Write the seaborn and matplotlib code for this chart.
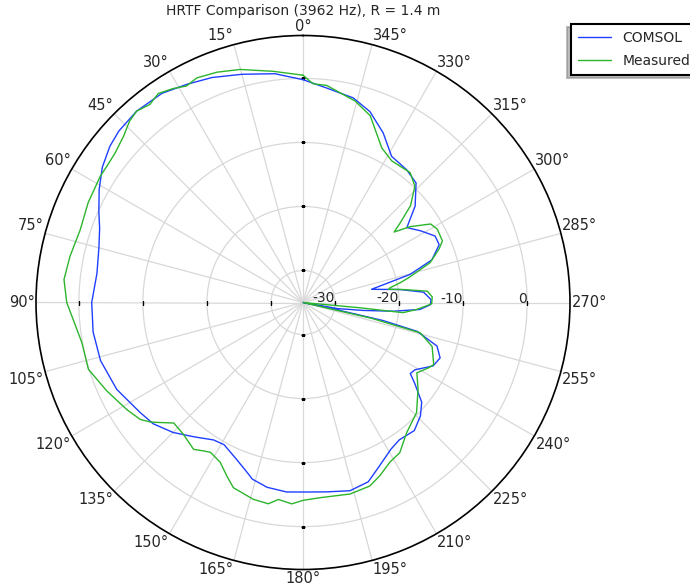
import matplotlib
matplotlib.use("Agg")
import matplotlib.pyplot as plt
import numpy as np
import pandas as pd
import seaborn as sns

# COMSOL simulation, angle (deg) / level (dB)
comsol_deg = [0, 7, 15, 22, 28, 34, 41, 47, 51, 56, 61, 66, 70, 75, 82, 90,
              98, 106, 115, 124, 129, 135, 141, 147, 151, 157, 162, 164, 169, 175, 180,
              187, 194, 200, 205, 211, 215, 221, 226, 230, 234, 236.5, 239, 244, 248,
              252, 255.8, 257.3, 258, 259, 260, 262.5, 264.5, 266.6, 269, 271.3, 274.9,
              277.6, 280.9, 284.7, 288.3, 293, 296.7, 301.4, 305.8, 310.7, 316.6, 322,
              328.8, 334.7, 340.7, 346.2, 353.7, 360]
comsol_db = [-0.2, 1.0, 1.9, 2.9, 3.6, 4.4, 4.6, 4.3, 3.8, 2.8, 1.4, -0.1, -1.2, -2.0, -2.5, -2.0,
             -1.9, -2.1, -2.9, -4.3, -4.9, -6.3, -8.0, -9.4, -9.6, -8.4, -7.0, -6.3, -5.6, -5.3, -5.4,
             -5.2, -4.7, -5.2, -6.8, -8.3, -8.8, -8.5, -9.5, -10.8, -13.4, -14.9, -14.6, -12.4, -11.9,
             -13.0, -16.6, -22.2, -30.0, -35.0, -29.5, -25.5, -20.8, -16.7, -15.1, -15.0, -16.1,
             -19.7, -24.1, -17.7, -13.8, -11.9, -11.9, -13.5, -15.0, -11.9, -9.3, -8.7,
             -8.3, -5.7, -3.4, -2.1, -1.3, -0.2]

# measured, angle (deg) / level (dB)
meas_deg = [0, 7.3, 15.1, 20.5, 25.3, 28.3, 31.3, 34.7, 37.7, 41, 43.7, 47.2, 51.5, 55.2, 58.1,
            65.1, 71.9, 78.8, 84.5, 90, 94.2, 100.3, 107.3, 114.3, 121.3, 125.7, 128, 129.4,
            133, 137.8, 143.3, 146.2, 148.3, 152.6, 156.3, 159.4, 165.8, 170.2, 172.9, 176.8,
            180, 185, 193.8, 200, 203.9, 208.5, 212.8, 218.5, 225.9, 233, 238.3, 242.5, 244.6,
            251.2, 255.5, 257, 258.3, 264.7, 264.2, 266.5, 269.4, 272.5, 275.2, 277.3, 278.8,
            279.6, 281.5, 283.5, 287.4, 291.4, 293.8, 298.6, 301.6, 305.3, 307.7, 309.4, 312,
            316.1, 320.5, 327.9, 333, 340.2, 345.5, 353.75, 357.4, 360]
meas_db = [0.5, 1.4, 2.7, 3.4, 3.8, 3.4, 4.1, 4.7, 4.1, 4.6, 4.2, 3.2, 2.5, 2.3, 2.3,
           2.0, 1.6, 2.1, 2.5, 1.9, 1.0, 0.1, 0.1, -1.4, -2.8, -3.7, -4.7, -5.5,
           -7.4, -7.2, -6.4, -7.1, -7.5, -6.9, -5.4, -4.1, -3.3, -3.1, -4.0, -3.5,
           -4.1, -4.4, -4.2, -4.5, -5.4, -6.6, -7.1, -9.0, -10.3, -12.5, -14.1, -12.9, -12.4,
           -13.7, -16.1, -24.0, -35.0, -26.1, -19.3, -17.2, -14.9, -14.8, -15.5, -19.1, -21.5,
           -21.2, -19.5, -17.8, -14.2, -12.2, -11.2, -11.1, -11.6, -14.5, -17.0, -15.3, -12.4,
           -9.8, -8.7, -8.9, -7.9, -4.0, -2.5, -0.9, -0.8, 0.5]

r_ticks = [-30, -20, -10, 0]
theta_ticks = list(range(0, 360, 15))

df_c = pd.DataFrame({"theta": np.deg2rad(comsol_deg), "level": comsol_db})
df_m = pd.DataFrame({"theta": np.deg2rad(meas_deg), "level": meas_db})

sns.set_style("white")
plt.rcParams["font.family"] = ["DejaVu Sans"]

fig = plt.figure(figsize=(6.9, 5.88), dpi=100)
ax = fig.add_axes([36 / 690, 18.5 / 588, 534 / 690, 534 / 588], projection="polar")
ax.set_theta_zero_location("N")
ax.set_theta_direction(1)

sns.lineplot(data=df_c, x="theta", y="level", ax=ax, sort=False, estimator=None,
             color="#1f3fff", lw=1.0, label="COMSOL")
sns.lineplot(data=df_m, x="theta", y="level", ax=ax, sort=False, estimator=None,
             color="#2cb52c", lw=1.0, label="Measured")

ax.set_ylim(-35, 6.7)
ax.set_rticks(r_ticks)
ax.set_yticklabels([])
ax.set_thetagrids(theta_ticks, labels=[f"{t}°" for t in theta_ticks])
ax.tick_params(axis="x", length=0, pad=-6, labelsize=10.5)
ax.tick_params(axis="y", length=0)

# anchor each angle label by its corner nearest the circle
for t, lab in zip(theta_ticks, ax.xaxis.get_ticklabels()):
    phi = np.deg2rad(90 + t)
    c, s = np.cos(phi), np.sin(phi)
    lab.set_ha("center" if abs(c) < 1e-6 else ("left" if c > 0 else "right"))
    lab.set_va("center" if abs(s) < 1e-6 else ("bottom" if s > 0 else "top"))

ax.grid(True, color="#d8d8d8", lw=0.9)
ax.spines["polar"].set_color("black")
ax.spines["polar"].set_linewidth(1.2)
ax.set_xlabel("")
ax.set_ylabel("")

# small tick marks along the four main axes
for ang, mk in [(0, "_"), (90, "|"), (180, "_"), (270, "|")]:
    ax.plot([np.deg2rad(ang)] * len(r_ticks), r_ticks, ls="none", marker=mk,
            ms=3, mew=1, color="black", zorder=1)

for r in r_ticks:
    ax.text(np.deg2rad(270), r, str(r), ha="right", va="baseline", fontsize=10)

ax.set_title("HRTF Comparison (3962 Hz), R = 1.4 m", fontsize=10,
             y=1 + 20.5 / 534, pad=0)

leg = ax.legend(loc="upper left", bbox_to_anchor=(571 / 690, 1 - 24 / 588),
                bbox_transform=fig.transFigure, borderaxespad=0, fancybox=False,
                shadow={"ox": -3, "oy": -2, "color": "0.5"}, edgecolor="black",
                framealpha=1, fontsize=10, handlelength=2.4, labelspacing=0.65,
                borderpad=0.5)
leg.get_frame().set_linewidth(1.5)

fig.savefig("out.png", dpi=100)
